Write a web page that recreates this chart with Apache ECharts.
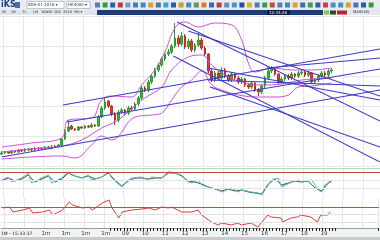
<!DOCTYPE html>
<html><head><meta charset="utf-8">
<script src="https://cdn.jsdelivr.net/npm/echarts@6/dist/echarts.min.js"></script>
<style>html,body{margin:0;padding:0;background:#fff}#c{width:380px;height:240px}</style>
</head><body><div id="c"></div>
<script>
// ---- data ----
const opens  = [12,13,14,13,15,14,16,15,16,17,16,17,18,17,19,18,19,20,21,27,35,40,37,36,39,38,40,39,41,40,49,58,65,60,52,46,54,56,53,58,57,62,68,78,76,84,90,96,101,107,112,114,120,128,122,130,119,125,116,121,126,118,112,95,86,93,88,96,90,86,92,88,84,87,81,79,83,76,74,80,88,95,98,92,84,87,90,88,92,90,93,94,91,93,84,86,90,93,91,95];
const closes = [13,14,13,15,14,16,15,16,17,16,17,18,17,19,18,19,20,21,27,35,39,37,36,39,38,40,39,41,40,49,58,64,60,52,46,54,56,53,58,57,62,68,78,76,84,90,96,101,107,112,114,120,128,122,130,119,125,116,121,126,118,112,95,86,93,88,96,90,86,92,88,84,87,81,79,83,76,74,80,88,95,98,92,84,87,90,88,92,90,93,94,91,93,84,86,90,93,91,95,96];
const highs  = [15,15,15,16,16,17,17,18,18,18,19,19,19,20,20,21,21,22,28,37,46,41,38,40,40,41,41,43,42,51,60,69,66,61,54,56,58,57,60,60,64,70,80,80,86,92,98,103,109,114,117,122,143,131,134,132,127,127,123,133,128,120,113,97,95,95,99,98,92,94,93,90,89,88,83,85,84,78,82,90,97,100,99,93,89,92,92,94,93,95,96,96,95,94,88,92,95,95,97,98];
const lows   = [11,12,12,12,13,13,14,14,15,15,15,16,16,16,17,17,18,19,20,26,34,36,35,35,37,37,38,38,39,39,48,56,58,50,41,44,52,51,51,55,55,60,66,74,74,82,88,94,99,105,110,112,118,119,120,117,117,114,114,119,116,110,93,84,84,86,86,88,84,84,86,82,82,79,77,77,74,70,72,78,86,93,90,82,82,85,86,86,88,88,91,89,89,82,82,84,88,89,89,93];

const bandUpper = [[0,19],[9,23],[18,28],[20,46],[27,48],[30,66],[33,70],[39,69],[42,81],[46,96],[49,114],[52,138],[55,144],[59,139],[64,143],[69,141],[72,126],[74,103],[76,94],[81,98],[87,96],[93,96],[99,98]];
const bandMid   = [[0,14],[9,17],[18,20],[24,26],[30,38],[35,46],[42,66],[48,79],[51,96],[56,109],[60,111],[63,101],[67,91],[72,84],[78,81],[84,82],[90,86],[99,88]];
const bandLower = [[0,7],[9,9],[18,10],[22,8],[27,21],[30,30],[33,26],[40,49],[45,51],[48,53],[51,66],[54,79],[57,86],[60,95],[63,81],[66,76],[71,71],[77,69],[82,69],[86,71],[89,79],[93,80],[99,83]];

// trend lines: [startIndex, startValue, endIndex, endValue]
const trendLines = [
  [18.4,61,113.5,117],
  [19.6,44,113.5,97],
  [0,9,113.5,76],
  [52.6,144,113.5,45],
  [51.5,110,113.5,4],
  [56,135,113.5,70],
  [62,98,113.5,66],
  [62,86,113.5,80],
  [62.5,79,113.5,19],
  [79.5,98,113.5,108]
];

const oscK = [[0,18],[2,21],[3,16],[6,20],[8,25],[9,15],[12,20],[14,23],[15,15],[18,20],[20,26],[21,23],[24,20],[26,23],[27,18],[30,21],[32,26],[33,20],[36,11],[38,18],[39,20],[42,21],[44,18],[45,21],[48,20],[50,26],[51,26],[54,23],[56,16],[57,15],[59,18],[60,13],[63,10],[65,8],[66,6],[69,10],[71,6],[72,8],[75,6],[77,5],[78,3],[81,18],[83,20],[84,11],[87,16],[89,18],[90,16],[93,18],[95,8],[96,6],[97,13],[99,18]];
const oscD = [[0,17],[2,20],[4,17],[6,19],[8,23],[10,16],[12,19],[14,22],[16,16],[18,19],[20,25],[22,22],[24,20],[26,22],[28,19],[30,21],[32,25],[34,18],[36,12],[38,17],[40,20],[42,20],[44,19],[46,20],[48,20],[50,25],[52,25],[54,22],[56,17],[58,16],[60,14],[62,11],[64,9],[66,7],[68,9],[70,7],[72,8],[74,6],[76,5],[78,4],[80,14],[82,19],[84,13],[86,15],[88,17],[90,16],[92,17],[94,10],[96,7],[98,15],[99,17]];
const oscR = [[0,20],[2,21],[3,16],[6,18],[8,20],[9,15],[12,16],[14,18],[15,13],[18,18],[20,26],[21,23],[24,20],[26,21],[27,18],[30,25],[32,28],[33,20],[35,10],[36,16],[39,18],[42,19],[44,20],[46,18],[48,21],[50,20],[51,21],[54,16],[57,16],[59,18],[60,13],[63,6],[65,3],[66,5],[69,3],[71,5],[72,3],[75,5],[77,1],[78,5],[80,13],[81,11],[84,10],[84.5,6],[87,10],[89,11],[90,13],[93,11],[95,6],[96,13],[98,13],[99,16]];

const labelIdx  = [13,19,25,31,37,43,49,55,61,67,73,79,85,91,97];
const labelText = ['1m','1m','1m','1m','09','10','11','12','13','14','15','16','17','18','19'];
const nCats = 114;

// ---- build ----
const cats = [];
for (let i = 0; i < nCats; i++) { const k = labelIdx.indexOf(i); cats.push(k >= 0 ? labelText[k] : ''); }
const ohlc = opens.map((o, i) => [o, closes[i], lows[i], highs[i]]);

const gridCol = '#e3e6ea';
const splitFn = (idx) => idx % 6 === 1;
function catAxis(g, withLabels) {
  return {type:'category', gridIndex:g, data:cats, boundaryGap:true,
    axisLine:{show: withLabels, lineStyle:{color:'#999'}},
    axisTick:{show: withLabels, interval:(i)=> i>=33 && i<=101, length:3, lineStyle:{color:'#222'}},
    axisLabel:{show: withLabels, interval:0, fontSize:5.5, color:'#333', margin:3, fontFamily:'DejaVu Sans'},
    splitLine:{show:true, interval:splitFn, lineStyle:{color:gridCol, width:1}}};
}
function valX(g) { return {type:'value', gridIndex:g, min:-0.5, max:nCats-0.5, show:false}; }

const series = [];
series.push({type:'candlestick', xAxisIndex:0, yAxisIndex:0, data:ohlc, barWidth:2,
  itemStyle:{color:'#2fbf2f', color0:'#e23a3a', borderColor:'#2a9a2a', borderColor0:'#c82828', borderWidth:1}});
[bandUpper, bandMid, bandLower].forEach(b => series.push({type:'line', xAxisIndex:1, yAxisIndex:0, data:b, smooth:0.4, symbol:'none', lineStyle:{color:'#d34fd3', width:1}}));
trendLines.forEach(t => series.push({type:'line', xAxisIndex:1, yAxisIndex:0, data:[[t[0],t[1]],[t[2],t[3]]], symbol:'none', clip:true, lineStyle:{color:'#3b3bc4', width:1.1}}));
series.push({type:'line', xAxisIndex:3, yAxisIndex:1, data:oscD, symbol:'none', lineStyle:{color:'#4a4a4a', width:1},
  markLine:{silent:true, symbol:'none', label:{show:false}, data:[{yAxis:26, lineStyle:{color:'#c04848', width:1.2, type:'solid'}},{yAxis:18, lineStyle:{color:'#e2e2e2', type:'solid', width:1}},{yAxis:10, lineStyle:{color:'#e2e2e2', type:'solid', width:1}}]}});
series.push({type:'line', xAxisIndex:3, yAxisIndex:1, data:oscK, symbol:'none', lineStyle:{color:'#3fc0b8', width:1}});
series.push({type:'line', xAxisIndex:5, yAxisIndex:2, data:oscR, symbol:'none', lineStyle:{color:'#e0393e', width:1},
  markLine:{silent:true, symbol:'none', label:{show:false}, data:[{yAxis:21, lineStyle:{color:'#c04848', width:1.2, type:'solid'}},{yAxis:14, lineStyle:{color:'#e2e2e2', type:'solid', width:1}},{yAxis:6, lineStyle:{color:'#e2e2e2', type:'solid', width:1}}]}});

// toolbar graphics
const g = [];
g.push({type:'rect', z:-10, shape:{x:0,y:0,width:380,height:10}, style:{fill:'#e8ecf1'}});
g.push({type:'text', z:5, left:1, top:1, style:{text:'iKS', fill:'#1b3f7c', font:'bold 8px DejaVu Sans'}});
g.push({type:'rect', z:5, shape:{x:15,y:2,width:5,height:6}, style:{fill:'#4a6fa8'}});
g.push({type:'rect', z:5, shape:{x:27,y:1.5,width:37,height:7}, style:{fill:'#fff', stroke:'#9aa4b0', lineWidth:0.6}});
g.push({type:'text', z:6, left:28, top:2.5, style:{text:'SD9-01-2016 ▾', fill:'#333', font:'4px DejaVu Sans'}});
g.push({type:'rect', z:5, shape:{x:67,y:1.5,width:23,height:7}, style:{fill:'#fff', stroke:'#9aa4b0', lineWidth:0.6}});
g.push({type:'text', z:6, left:68, top:2.5, style:{text:'HK4000 ▾', fill:'#333', font:'4px DejaVu Sans'}});
const iconCols = ['#5a7fb8','#3a9a3a','#2a5fb0','#c03a3a','#7a9ac8','#4a7ab8','#3a8ad0','#e0a020','#5a6fa0','#3aa0d8','#2a5aa8','#c8a030','#4a8ac0','#5a9a5a','#e07a20','#3a6ab0','#c04040','#6a8ac0','#3a9ad0','#2a4a98','#e0b030','#4a7ab0','#3a9a4a','#c84a3a','#5a7ab8','#3a8ac0','#e0a030','#4a6aa8','#3aa050','#2a60b0','#d04040','#5a8ac0','#3a90d0','#e0a020','#4a70b0','#2a5ab0','#3a9a3a'];
iconCols.forEach((c, k) => g.push({type:'rect', z:5, shape:{x:95 + k*7.6, y:2.5, width:5, height:5}, style:{fill:c}}));
g.push({type:'rect', z:-10, shape:{x:0,y:10,width:97,height:5}, style:{fill:'#dfe5ec'}});
g.push({type:'text', z:6, left:2, top:10.5, style:{text:'IN     AV      TL      LM   WWW  000  2016  M0 ▾', fill:'#333', font:'3.5px DejaVu Sans'}});
g.push({type:'rect', z:-10, shape:{x:97,y:10,width:226,height:5}, style:{fill:'#1d3d72'}});
g.push({type:'rect', z:5, shape:{x:267,y:10,width:23,height:5}, style:{fill:'#0c1c3c'}});
g.push({type:'text', z:6, left:269, top:10.5, style:{text:'12:33:26', fill:'#fff', font:'4px DejaVu Sans'}});
g.push({type:'rect', z:-10, shape:{x:323,y:10,width:57,height:5}, style:{fill:'#e4e8ec'}});
g.push({type:'rect', z:5, shape:{x:324,y:10.5,width:5,height:4}, style:{fill:'#7ac85a'}});
g.push({type:'rect', z:5, shape:{x:330,y:10.5,width:6,height:4}, style:{fill:'#2a4a2a'}});
g.push({type:'rect', z:5, shape:{x:337,y:10.5,width:10,height:4}, style:{fill:'#b82a2a'}});
g.push({type:'text', z:6, left:353, top:10.5, style:{text:'MAIN.NS', fill:'#333', font:'3.8px DejaVu Sans'}});
g.push({type:'line', z:5, shape:{x1:0,y1:168.5,x2:380,y2:168.5}, style:{stroke:'#b8dcb8', lineWidth:1}});
g.push({type:'rect', z:-10, shape:{x:0,y:228,width:380,height:9}, style:{fill:'#f2f3f5'}});
g.push({type:'rect', z:-10, shape:{x:0,y:237,width:380,height:3}, style:{fill:'#c8ccd2'}});
g.push({type:'text', z:6, left:1, top:231, style:{text:'1M - 15:33:37 .', fill:'#222', font:'4.5px DejaVu Sans'}});

const chart = echarts.init(document.getElementById('c'), null, {renderer:'canvas'});
chart.setOption({
  animation:false, backgroundColor:'#ffffff',
  grid:[{left:0,right:0,top:16,height:150},{left:0,right:0,top:168,height:30},{left:0,right:0,top:198,height:30}],
  xAxis:[catAxis(0,false), valX(0), catAxis(1,false), valX(1), catAxis(2,true), valX(2)],
  yAxis:[
    {type:'value', gridIndex:0, min:0, max:150, interval:30, axisLine:{show:false}, axisTick:{show:false}, axisLabel:{show:false}, splitLine:{lineStyle:{color:gridCol}}},
    {type:'value', gridIndex:1, min:0, max:30, show:false, splitLine:{show:false}},
    {type:'value', gridIndex:2, min:0, max:30, show:false, splitLine:{show:false}}
  ],
  graphic:g,
  series:series
});
</script></body></html>
